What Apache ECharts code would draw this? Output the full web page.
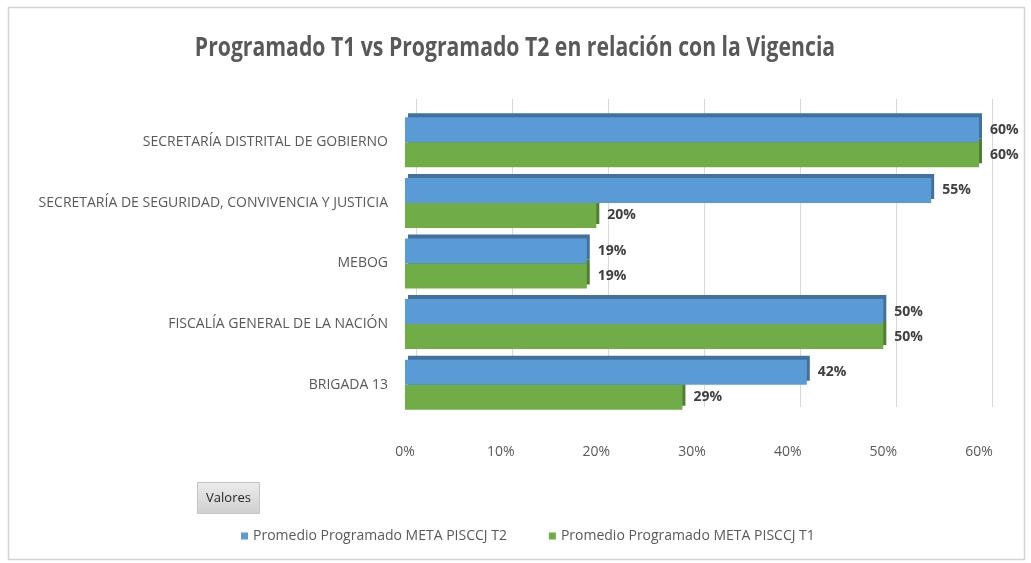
<!DOCTYPE html>
<html>
<head>
<meta charset="utf-8">
<script src="https://cdn.jsdelivr.net/npm/echarts@6/dist/echarts.min.js"></script>
<style>
html, body { margin: 0; padding: 0; background: #fff; }
#container { width: 1031px; height: 563px; }
</style>
</head>
<body>
<div id="container"></div>
<script>
var entidades = [
    'SECRETARÍA DISTRITAL DE GOBIERNO',
    'SECRETARÍA DE SEGURIDAD, CONVIVENCIA Y JUSTICIA',
    'MEBOG',
    'FISCALÍA GENERAL DE LA NACIÓN',
    'BRIGADA 13'
];
var programadoT2 = [60, 55, 19, 50, 42];
var programadoT1 = [60, 20, 19, 50, 29];
var nombreT2 = 'Promedio Programado META PISCCJ T2';
var nombreT1 = 'Promedio Programado META PISCCJ T1';
var titulo = 'Programado T1 vs Programado T2 en relación con la Vigencia';

var fuente = '"Open Sans", "DejaVu Sans", sans-serif';

var dom = document.getElementById('container');
var myChart = echarts.init(dom);

var etiqueta = {
    show: true,
    position: 'right',
    distance: 11,
    formatter: '{c}%',
    color: '#404040',
    fontWeight: 'bold',
    fontSize: 14,
    fontFamily: fuente
};

var option = {
    backgroundColor: '#fff',
    legend: {
        data: [nombreT2, nombreT1],
        left: 236,
        top: 524,
        icon: 'rect',
        itemWidth: 7,
        itemHeight: 7,
        itemGap: 42,
        textStyle: {
            color: '#595959',
            fontSize: 14,
            fontFamily: fuente
        }
    },
    grid: [
        // cara frontal: barras y etiquetas
        { left: 405, right: 52, top: 112, bottom: 148 },
        // pared del fondo: solo las lineas de la cuadricula
        { left: 416, right: 39, top: 99, bottom: 156 }
    ],
    xAxis: [{
        type: 'value',
        gridIndex: 0,
        min: 0,
        max: 60,
        interval: 10,
        axisLine: { show: false },
        axisTick: { show: false },
        splitLine: { show: false },
        axisLabel: {
            formatter: '{value}%',
            margin: 30,
            color: '#595959',
            fontSize: 14,
            fontFamily: fuente
        }
    }, {
        type: 'value',
        gridIndex: 1,
        min: 0,
        max: 60,
        interval: 10,
        axisLine: { show: false },
        axisTick: { show: false },
        axisLabel: { show: false },
        splitLine: { lineStyle: { color: '#d9d9d9', width: 1 } }
    }],
    yAxis: [{
        type: 'category',
        gridIndex: 0,
        inverse: true,
        data: entidades,
        axisLine: { show: false },
        axisTick: { show: false },
        axisLabel: {
            margin: 17,
            color: '#595959',
            fontSize: 14,
            fontFamily: fuente
        }
    }, {
        type: 'category',
        gridIndex: 1,
        data: entidades,
        show: false
    }],
    series: [{
        name: nombreT2,
        type: 'bar',
        z: 3,
        barWidth: 25,
        barGap: 0,
        data: programadoT2,
        itemStyle: {
            color: '#5b9bd5',
            shadowColor: '#41719c',
            shadowOffsetX: 3,
            shadowOffsetY: -4,
            shadowBlur: 0
        },
        label: etiqueta
    }, {
        name: nombreT1,
        type: 'bar',
        z: 2,
        barWidth: 25,
        barGap: 0,
        data: programadoT1,
        itemStyle: {
            color: '#70ad47',
            shadowColor: '#507e32',
            shadowOffsetX: 3,
            shadowOffsetY: -4,
            shadowBlur: 0
        },
        label: etiqueta
    }],
    graphic: [{
        type: 'rect',
        left: 6,
        top: 5,
        shape: { width: 1016, height: 552 },
        style: { fill: 'none', stroke: '#d4d4d4', lineWidth: 1.5 },
        silent: true
    }, {
        // titulo estrechado para parecerse a la fuente condensada
        type: 'text',
        x: 515,
        y: 49,
        scaleX: 0.815,
        style: {
            text: titulo,
            align: 'center',
            verticalAlign: 'middle',
            fill: '#595959',
            fontSize: 26,
            fontWeight: 'bold',
            fontFamily: fuente
        }
    }, {
        type: 'group',
        left: 197,
        top: 482,
        children: [{
            type: 'rect',
            shape: { width: 62, height: 31 },
            style: {
                fill: new echarts.graphic.LinearGradient(0, 0, 0, 1, [
                    { offset: 0, color: '#ececec' },
                    { offset: 1, color: '#cfcfcf' }
                ]),
                stroke: '#c4c4c4'
            }
        }, {
            type: 'text',
            x: 31,
            y: 16,
            style: {
                text: 'Valores',
                align: 'center',
                verticalAlign: 'middle',
                fill: '#262626',
                fontSize: 13,
                fontFamily: fuente
            }
        }]
    }]
};

if (option && typeof option === 'object') {
    myChart.setOption(option, true);
}
</script>
</body>
</html>
